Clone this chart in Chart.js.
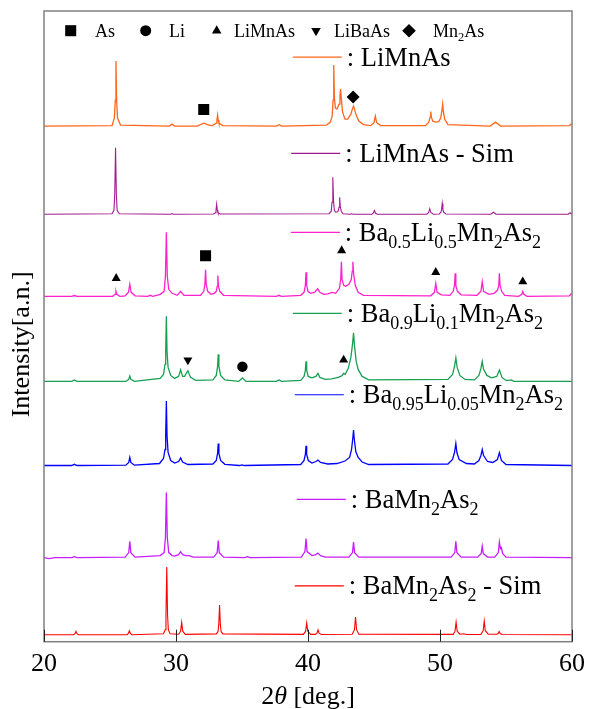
<!DOCTYPE html>
<html><head><meta charset="utf-8">
<script src="https://cdn.jsdelivr.net/npm/chart.js@4.4.0/dist/chart.umd.min.js"></script>
<style>html,body{margin:0;padding:0;background:#fff}#wrap{width:592px;height:709px}</style>
</head><body><div id="wrap"><canvas id="c" width="592" height="709"></canvas></div>
<script>
// ---------- data (2θ in degrees, intensity in arbitrary units above each pattern's own baseline) ----------
const xTickValues = [20, 30, 40, 50, 60];

const seriesKeys = ['LiMnAs', 'LiMnAs - Sim', 'Ba0.5Li0.5Mn2As2', 'Ba0.9Li0.1Mn2As2', 'Ba0.95Li0.05Mn2As2', 'BaMn2As2', 'BaMn2As2 - Sim'];
const seriesOffsets = [515, 427, 345, 260, 176, 84, 7];

const liMnAsExp = [
[20,0],[25.15,0.5],[25.33,8],[25.4,26],[25.45,65],[25.5,26],[25.57,8],[25.8,1],
[29.5,0],[29.7,2],[29.9,0],
[31.6,0],[32.1,3],[32.5,1],
[32.75,0.5],[33.05,3],[33.1,6],[33.15,11],[33.2,6],[33.25,3],[33.55,0.5],
[37.6,0],[37.8,1.5],[38.0,0],
[41.4,1],[41.7,4],[41.83,10],[41.9,26],[41.95,61],[42.0,28],[42.08,18],[42.2,17],[42.35,22],[42.42,30],[42.47,37],[42.52,28],[42.62,14],[42.8,7],[43.0,7],[43.25,12],[43.38,18],[43.45,20],[43.52,17],[43.65,11],[43.85,5],[44.2,1.5],
[44.75,0.5],[45.0,3.5],[45.1,10],[45.2,3.5],[45.5,0.5],
[48.9,0.5],[49.15,4],[49.25,9],[49.3,14.5],[49.35,9],[49.45,5],[49.7,4],[49.9,4.5],[50.05,8],[50.15,16],[50.2,22],[50.25,15],[50.35,7],[50.6,1.5],
[53.8,0],[54.2,4],[54.6,0],
[59.8,0.5],[60,2.5]
];
const liMnAsSim = [
[20,0],[25.15,0.5],[25.3,4],[25.36,20],[25.42,66.5],[25.48,20],[25.54,4],[25.7,0.5],
[29.6,0],[29.7,0.7],[29.8,0],
[32.85,0.3],[32.98,1.5],[33.03,4],[33.08,10],[33.13,4],[33.18,1.5],[33.35,0.3],
[41.6,0.5],[41.76,3],[41.82,12],[41.88,37],[41.94,12],[42.0,4],[42.1,2],[42.25,2.5],[42.3,4],[42.35,7],[42.4,17],[42.45,7],[42.52,3],[42.65,0.5],
[43.2,0],[43.3,0.5],[43.4,0],
[44.85,0],[44.95,1.2],[45.03,3.8],[45.11,1.2],[45.25,0],
[49.0,0],[49.14,1.7],[49.22,5.5],[49.3,1.7],[49.5,0],
[49.95,0.3],[50.07,2],[50.12,4.5],[50.17,10.7],[50.22,4.5],[50.27,2],[50.45,0.3],
[53.85,0],[54.05,2],[54.25,0],
[59.7,0],[59.85,1.5],[60,0]
];
const ba05Li05 = [
[20,0],[22.1,0],[22.3,0.8],[22.5,0],
[25.2,0],[25.38,2],[25.45,5.2],[25.52,2],[25.75,0],
[26.15,0.5],[26.4,4],[26.5,12],[26.6,4],[26.9,0.5],
[27.85,0],[28.05,1],[28.25,0],
[28.8,2],[29.1,5],[29.2,20],[29.27,64],[29.34,20],[29.45,7],[29.7,3],
[30.1,1],[30.35,5],[30.6,1],
[31.85,1],[32.1,5],[32.19,12],[32.24,26.5],[32.29,12],[32.4,5],[32.65,2],[32.9,3],[33.05,5],[33.12,10],[33.17,20.7],[33.22,10],[33.32,5],[33.6,1],
[37.6,0],[37.8,1],[38.0,0],
[39.45,1],[39.7,4],[39.8,11],[39.85,24],[39.9,11],[40.0,5],[40.2,3],[40.5,4],[40.73,7.6],[40.9,4],[41.2,2],[41.5,2.5],[41.84,4],[42.1,3],[42.38,8],[42.48,17],[42.53,34.5],[42.58,17],[42.7,11],[42.85,10],[43.1,12],[43.28,17],[43.35,25],[43.4,34.5],[43.46,22],[43.58,11],[43.8,4],[44.2,1],
[49.3,0.5],[49.58,4],[49.68,12.8],[49.78,4],[50.1,1.5],
[50.75,1],[51.0,5],[51.1,11],[51.15,23],[51.2,11],[51.32,5],[51.6,1.5],
[52.8,1],[53.1,5],[53.2,14.5],[53.3,5],[53.7,2],[54.1,3],[54.35,6],[54.45,11],[54.5,23],[54.55,11],[54.67,5],[54.9,1],
[55.95,0],[56.2,2],[56.27,4.8],[56.35,2],[56.6,0],
[59.8,0.5],[60,3]
];
const ba09Li01 = [
[20,0],[22.1,0],[22.3,1.5],[22.5,0],
[26.2,0],[26.42,2],[26.5,5.5],[26.58,2],[26.85,0],
[28.8,3],[29.05,7],[29.17,17],[29.22,30],[29.27,65],[29.32,30],[29.4,14],[29.6,6],[29.9,3],[30.2,5],[30.35,11.7],[30.5,5],[30.65,5],[30.9,10.7],[31.1,4],[31.5,1],
[32.8,1.5],[33.05,6],[33.15,15],[33.2,27],[33.25,15],[33.38,6],[33.7,1.5],
[34.75,0],[35.03,3.5],[35.3,0],
[37.6,0],[37.8,1.5],[38.0,0],
[39.45,1],[39.7,5],[39.8,11],[39.85,20],[39.9,11],[40.02,5],[40.3,3.5],[40.6,5],[40.75,8],[40.9,4],[41.3,2],[41.8,2.5],[42.3,4],[42.55,5.5],[42.7,8],[42.82,7],[43.05,13],[43.25,24],[43.38,38],[43.45,48.6],[43.52,36],[43.65,20],[43.8,12],[44.1,5],[44.6,1.5],
[50.6,2],[50.95,7],[51.1,15],[51.2,23.4],[51.3,14],[51.5,6],[51.9,2],
[52.6,1.5],[52.95,6],[53.1,13],[53.2,20],[53.3,12],[53.55,6],[53.9,3.5],[54.3,5],[54.5,11.4],[54.7,4],[55.0,1],
[55.2,1],[55.4,1.5],[55.6,0],
[60,0]
];
const ba095Li005 = [
[20,0],[22.1,0],[22.3,1.2],[22.5,0],
[26.2,0.3],[26.42,3],[26.5,8],[26.58,3],[26.85,0.3],
[28.75,2],[29.05,7],[29.17,16],[29.22,30],[29.27,64.5],[29.32,30],[29.4,13],[29.6,5],[29.9,2.5],[30.2,4],[30.35,7.6],[30.5,3.5],[30.9,1],
[32.8,1.5],[33.05,5],[33.15,12],[33.2,22],[33.25,12],[33.38,5],[33.7,1.2],
[34.8,0],[35.0,0.7],[35.2,0],
[39.45,1],[39.7,5],[39.8,11],[39.85,19.7],[39.9,11],[40.02,5],[40.3,2.5],[40.6,4],[40.75,5.5],[40.95,3],[41.5,1.5],[42.2,2],[42.8,4.5],[43.15,8],[43.3,16],[43.4,28],[43.45,35.5],[43.5,27],[43.62,14],[43.8,8],[44.1,3.5],[44.6,1],
[50.6,1.5],[50.95,6],[51.1,13],[51.2,22],[51.28,13],[51.45,6],[52.0,2],
[52.6,1.5],[52.95,5],[53.1,10],[53.2,15.9],[53.3,10],[53.6,4],[54.0,3],[54.35,6],[54.5,12.8],[54.65,5],[55.0,1],
[60,0]
];
const baMn2As2Exp = [
[20,0],[20.4,-1],[20.8,0],
[22.1,0],[22.3,1],[22.5,0],
[26.15,0.5],[26.42,5],[26.5,16.2],[26.58,5],[26.9,0.5],
[28.8,2],[29.1,5],[29.2,20],[29.27,65],[29.34,20],[29.45,5],[29.7,2],[29.9,1.5],[30.2,3],[30.35,5.9],[30.5,3],[30.75,2],[31.0,2],[31.3,0.5],
[32.85,0.5],[33.12,5],[33.2,17],[33.28,5],[33.6,0.5],
[35.2,0],[35.4,1],[35.6,0],
[39.5,0.5],[39.77,6],[39.85,19],[39.93,6],[40.3,2],[40.6,3],[40.75,4.5],[40.95,2],[41.3,0.5],
[43.1,0.5],[43.37,5],[43.45,15.5],[43.53,5],[43.85,0.5],
[50.85,0.5],[51.12,5],[51.2,16.2],[51.28,5],[51.6,0.5],
[52.85,0.5],[53.12,4],[53.2,11.4],[53.28,4],[53.6,0.5],
[54.15,0.5],[54.42,5],[54.5,15.5],[54.58,9],[54.65,10],[54.75,4],[55.0,0.5],
[60,0]
];
const baMn2As2Sim = [
[20,0],[22.25,0],[22.34,1],[22.42,3.3],[22.5,1],[22.6,0],
[26.3,0],[26.39,1.2],[26.47,4],[26.55,1.2],[26.65,0],
[29.05,1],[29.18,5],[29.24,20],[29.3,67.6],[29.36,20],[29.42,5],[29.55,1],
[30.2,0.5],[30.35,3.5],[30.43,12.3],[30.51,3.5],[30.7,0.3],
[33.05,0.8],[33.18,3],[33.24,10],[33.3,29.7],[33.36,10],[33.42,3],[33.55,0.8],
[39.65,0.3],[39.82,3.5],[39.9,11.7],[39.98,3.5],[40.2,0.3],
[40.55,0.3],[40.68,1.5],[40.76,4.8],[40.84,1.5],[41.0,0.2],
[43.35,0.5],[43.52,5],[43.6,17.6],[43.68,5],[43.85,0.5],
[51.0,0.3],[51.14,3.5],[51.22,12.4],[51.3,3.5],[51.5,0.5],[51.8,1],[52.0,0.2],
[53.1,0.3],[53.27,4],[53.35,13.7],[53.43,4],[53.65,0.5],
[54.3,0.5],[54.4,1.2],[54.48,3.2],[54.56,1.2],[54.7,0.2],
[60,0]
];
const seriesData = [liMnAsExp, liMnAsSim, ba05Li05, ba09Li01, ba095Li005, baMn2As2Exp, baMn2As2Sim];

// phase markers: [2θ, absolute stacked intensity]
const phaseNames = ['As', 'Li', 'LiMnAs', 'LiBaAs', 'Mn2As'];
const markAs = [[32.1, 531.5], [32.24, 385.5]];
const markLi = [[35.03, 274.7]];
const markLiMnAs = [[25.47, 363], [42.55, 390.7], [49.68, 369], [56.27, 359.7], [42.7, 281.4]];
const markLiBaAs = [[30.9, 281.4]];
const markMn2As = [[43.42, 544]];

// ---------- styles ----------
const seriesColors = ['#ff6619', '#a3198f', '#ff22cc', '#17a052', '#0000ff', '#c81eff', '#ff0000'];
const seriesWidths = [1.3, 1.1, 1.3, 1.3, 1.3, 1.3, 1.1];
const legendAnchors = [[38.85, 584], [38.73, 487.7], [38.7, 408.9], [38.85, 327.9], [39.0, 246.7], [39.15, 142.1], [39.0, 55.7]];
const legendParts = [
  [[': LiMnAs', 0]],
  [[': LiMnAs - Sim', 0]],
  [[': Ba', 0], ['0.5', 1], ['Li', 0], ['0.5', 1], ['Mn', 0], ['2', 1], ['As', 0], ['2', 1]],
  [[': Ba', 0], ['0.9', 1], ['Li', 0], ['0.1', 1], ['Mn', 0], ['2', 1], ['As', 0], ['2', 1]],
  [[': Ba', 0], ['0.95', 1], ['Li', 0], ['0.05', 1], ['Mn', 0], ['2', 1], ['As', 0], ['2', 1]],
  [[': BaMn', 0], ['2', 1], ['As', 0], ['2', 1]],
  [[': BaMn', 0], ['2', 1], ['As', 0], ['2', 1], [' - Sim', 0]]
];
const SERIF = '"Liberation Serif", "Times New Roman", serif';

const markerSets = [
  {data: markAs, style: 'rect', r: 7.8, rot: 0},
  {data: markLi, style: 'circle', r: 5.2, rot: 0},
  {data: markLiMnAs, style: 'triangle', r: 5.2, rot: 0},
  {data: markLiBaAs, style: 'triangle', r: 5.2, rot: 180},
  {data: markMn2As, style: 'rectRot', r: 6.5, rot: 0}
];
const phaseLegend = [
  {style: 'rect', r: 7.8, rot: 0, sx: 70.7, tx: 95, parts: [['As', 0]]},
  {style: 'circle', r: 5.5, rot: 0, sx: 145.7, tx: 169, parts: [['Li', 0]]},
  {style: 'triangle', r: 5.5, rot: 0, sx: 216.7, tx: 234, parts: [['LiMnAs', 0]]},
  {style: 'triangle', r: 5.5, rot: 180, sx: 316, tx: 334, parts: [['LiBaAs', 0]]},
  {style: 'rectRot', r: 6.8, rot: 0, sx: 409, tx: 433, parts: [['Mn', 0], ['2', 1], ['As', 0]]}
];

function drawRich(ctx, parts, x0, base, size, subSize, shift) {
  let x = x0;
  ctx.textAlign = 'left';
  ctx.textBaseline = 'alphabetic';
  for (const [txt, sub] of parts) {
    ctx.font = (sub ? subSize : size) + 'px ' + SERIF;
    ctx.fillText(txt, x, base + (sub ? shift : 0));
    x += ctx.measureText(txt).width;
  }
  return x;
}

const overlay = {
  id: 'overlay',
  afterDatasetsDraw(chart) {
    const {ctx, chartArea: a, scales: {x, y}} = chart;
    ctx.save();
    // frame
    ctx.strokeStyle = '#808080';
    ctx.lineWidth = 1.5;
    ctx.strokeRect(a.left, a.top, a.right - a.left, a.bottom - a.top);
    // inward ticks
    ctx.strokeStyle = '#222';
    ctx.lineWidth = 1;
    x.ticks.forEach(t => {
      const px = Math.round(x.getPixelForValue(t.value)) + 0.5;
      ctx.beginPath(); ctx.moveTo(px, a.bottom); ctx.lineTo(px, a.bottom - 12); ctx.stroke();
    });
    // series legends
    legendAnchors.forEach((p, i) => {
      const lx = x.getPixelForValue(p[0]);
      const ly = y.getPixelForValue(p[1]);
      ctx.strokeStyle = seriesColors[i];
      ctx.lineWidth = 1.2;
      ctx.beginPath(); ctx.moveTo(lx, ly); ctx.lineTo(lx + 49, ly); ctx.stroke();
      ctx.fillStyle = '#000';
      drawRich(ctx, legendParts[i], lx + 54, ly + 8.5, 26.5, 18, 7);
    });
    // phase symbol legend
    phaseLegend.forEach(p => {
      ctx.fillStyle = '#000';
      ctx.strokeStyle = '#000';
      Chart.helpers.drawPoint(ctx, {pointStyle: p.style, radius: p.r, rotation: p.rot, borderWidth: 0}, p.sx, a.top + 19.7);
      ctx.fillStyle = '#000';
      drawRich(ctx, p.parts, p.tx, a.top + 25.8, 18, 12.5, 4);
    });
    // x title: 2θ [deg.]
    const cx = (a.left + a.right) / 2;
    const pieces = [['2', ''], ['θ', 'italic '], [' [deg.]', '']];
    let w = 0;
    pieces.forEach(([t, s]) => { ctx.font = s + '26px ' + SERIF; w += ctx.measureText(t).width; });
    let xx = cx - w / 2;
    ctx.textAlign = 'left'; ctx.textBaseline = 'alphabetic';
    pieces.forEach(([t, s]) => { ctx.font = s + '26px ' + SERIF; ctx.fillText(t, xx, 704); xx += ctx.measureText(t).width; });
    // y title
    ctx.save();
    ctx.translate(21.7, y.getPixelForValue(297));
    ctx.rotate(-Math.PI / 2);
    ctx.font = '26px ' + SERIF;
    ctx.textAlign = 'center'; ctx.textBaseline = 'middle';
    ctx.fillText('Intensity[a.n.]', 0, 0);
    ctx.restore();
    ctx.restore();
  }
};

const datasets = seriesData.map((arr, i) => ({
  label: seriesKeys[i],
  data: arr.map(([tt, v]) => ({x: tt, y: v + seriesOffsets[i]})),
  borderColor: seriesColors[i],
  borderWidth: seriesWidths[i],
  pointRadius: 0,
  tension: 0,
  fill: false
}));
markerSets.forEach((m, k) => datasets.push({
  label: phaseNames[k],
  data: m.data.map(([tt, v]) => ({x: tt, y: v})),
  showLine: false,
  pointStyle: m.style,
  pointRadius: m.r,
  pointRotation: m.rot,
  pointBackgroundColor: '#000',
  pointBorderColor: '#000',
  pointBorderWidth: 0
}));

new Chart(document.getElementById('c'), {
  type: 'line',
  data: {datasets},
  options: {
    responsive: false,
    animation: false,
    devicePixelRatio: 1,
    layout: {padding: {left: 44, right: 16, top: 11, bottom: 0}},
    plugins: {legend: {display: false}, tooltip: {enabled: false}},
    scales: {
      x: {
        type: 'linear', min: 20, max: 60,
        afterBuildTicks: s => { s.ticks = xTickValues.map(v => ({value: v})); },
        afterFit: s => { s.height = 67.3; },
        grid: {display: false, drawTicks: false},
        border: {display: false},
        ticks: {color: '#000', font: {family: SERIF, size: 26}, padding: 7, maxRotation: 0, autoSkip: false}
      },
      y: {display: false, min: 0, max: 630}
    }
  },
  plugins: [overlay]
});
</script>
</body></html>
